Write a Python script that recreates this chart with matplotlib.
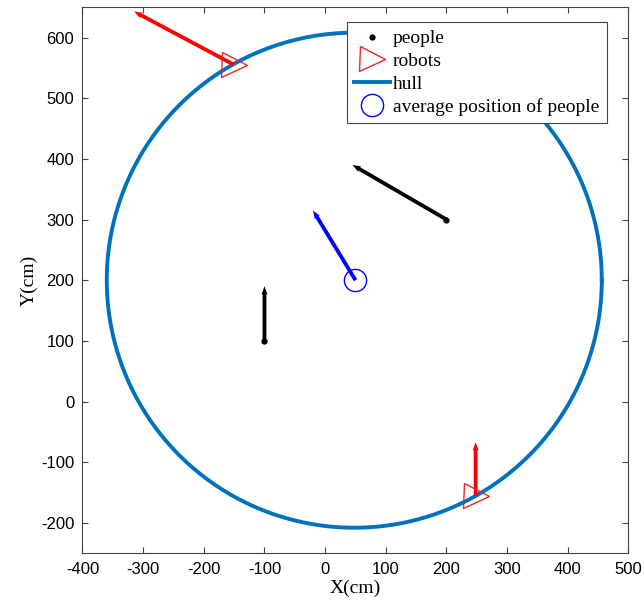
import numpy as np
import matplotlib.pyplot as plt

plt.rcParams['axes.unicode_minus'] = False

# people positions and their motion vectors
people_x = [200, -100]
people_y = [300, 100]
people_u = [-155, 0]
people_v = [90, 90]

# robot positions and their motion vectors
robots_x = [-150, 248]
robots_y = [555, -155]
robots_u = [-165, 0]
robots_v = [88, 88]

# average position of people and its motion
avg_x = [50]
avg_y = [200]
avg_u = [-70]
avg_v = [115]

# hull (circle)
hull_cx = 48
hull_cy = 200
hull_r = 408

theta = np.linspace(0, 2 * np.pi, 400)
hull_x = hull_cx + hull_r * np.cos(theta)
hull_y = hull_cy + hull_r * np.sin(theta)

fig = plt.figure(figsize=(6.44, 6), dpi=100)
ax = fig.add_axes([0.126, 0.078, 0.852, 0.91])

ax.plot(hull_x, hull_y, color='#0072BD', linewidth=2.8, label='hull', zorder=2)

qkw = dict(angles='xy', scale_units='xy', scale=1, width=0.007,
           headwidth=1.6, headlength=2.2, headaxislength=2.0, zorder=3)
ax.quiver(people_x, people_y, people_u, people_v, color='black', **qkw)
ax.quiver(robots_x, robots_y, robots_u, robots_v, color='red', **qkw)
ax.quiver(avg_x, avg_y, avg_u, avg_v, color='blue', **qkw)

ax.plot(people_x, people_y, '.', color='black', markersize=7, label='people', zorder=4)
ax.plot(robots_x, robots_y, '>', markerfacecolor='none', markeredgecolor='#E8262A',
        markersize=18, markeredgewidth=1.0, label='robots', zorder=4)
ax.plot(avg_x, avg_y, 'o', markerfacecolor='none', markeredgecolor='blue',
        markersize=16, markeredgewidth=1.0, label='average position of people', zorder=4)

ax.set_xlim(-400, 500)
ax.set_ylim(-250, 650)
ax.set_aspect('equal')
ax.set_xticks(range(-400, 501, 100))
ax.set_yticks(range(-200, 601, 100))
for lbl in ax.get_xticklabels() + ax.get_yticklabels():
    lbl.set_family('Liberation Sans')
    lbl.set_fontsize(12)
ax.tick_params(direction='in', length=4, color='#444444', top=True, right=True,
               labeltop=False, labelright=False, pad=6)
for s in ax.spines.values():
    s.set_color('#444444')
    s.set_linewidth(0.8)

ax.set_xlabel('X(cm)', family='Liberation Serif', fontsize=14, labelpad=2)
ax.set_ylabel('Y(cm)', family='Liberation Serif', fontsize=14, labelpad=2)

handles, labels = ax.get_legend_handles_labels()
order = [1, 2, 0, 3]
leg = ax.legend([handles[i] for i in order], [labels[i] for i in order],
                loc='upper right', bbox_to_anchor=(0.96, 0.972), borderaxespad=0,
                prop={'family': 'Liberation Serif', 'size': 14},
                fancybox=False, edgecolor='#444444', framealpha=1,
                handlelength=1.85, handletextpad=0.15, labelspacing=0.26, borderpad=0.38)
leg.get_frame().set_linewidth(0.8)

fig.savefig('out.png', dpi=100)
